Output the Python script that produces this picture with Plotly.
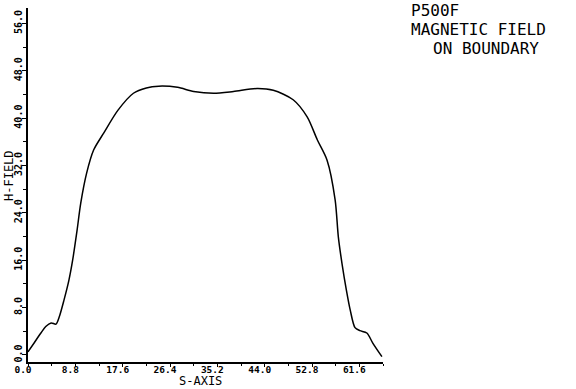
import plotly.graph_objects as go

# S-axis positions and H-field values
s_axis = [0.0, 1.2, 2.4, 3.3, 4.3, 5.2, 5.8, 6.7, 7.6, 8.3, 9.1, 9.8, 10.9, 12.2,
          14.1, 16.7, 19.6, 22.0, 24.3, 27.8, 30.8, 34.5, 38.2, 42.6, 45.6, 49.3,
          51.9, 53.8, 55.6, 57.1, 57.7, 58.4, 59.2, 59.9, 60.8, 61.7, 63.0, 64.1, 65.8]
h_field = [0.5, 2.1, 3.7, 4.8, 5.4, 5.2, 6.4, 9.3, 12.6, 16.0, 20.9, 25.6, 30.7, 34.6,
           37.5, 41.3, 44.2, 45.1, 45.4, 45.2, 44.5, 44.2, 44.5, 45.0, 44.7, 43.1,
           40.2, 36.3, 32.9, 26.2, 19.9, 15.3, 10.9, 7.6, 4.6, 4.1, 3.7, 2.0, -0.3]

x_ticks = [0.0, 8.8, 17.6, 26.4, 35.2, 44.0, 52.8, 61.6]
x_tick_labels = ["0.0", "8.8", "17.6", "26.4", "35.2", "44.0", "52.8", "61.6"]
y_ticks = [0, 8, 16, 24, 32, 40, 48, 56]
y_tick_labels = ["0.0", "8.0", "16.0", "24.0", "32.0", "40.0", "48.0", "56.0"]

x_title = "S-AXIS"
y_title = "H-FIELD"
title_lines = ["P500F", "MAGNETIC FIELD", "ON BOUNDARY"]

W, H = 576, 389
L, R, T, B = 28, 193, 8, 27
pw, ph = W - L - R, H - T - B

FONT = "DejaVu Sans Mono"

fig = go.Figure()
fig.add_trace(go.Scatter(
    x=s_axis, y=h_field, mode="lines",
    line=dict(color="black", width=1.5, shape="spline", smoothing=0.8),
    showlegend=False, hoverinfo="skip"))

fig.update_layout(
    width=W, height=H,
    margin=dict(l=L, r=R, t=T, b=B, pad=0),
    paper_bgcolor="white", plot_bgcolor="white",
    font=dict(family=FONT, color="black"),
    xaxis=dict(
        range=[0, 66], showgrid=False, zeroline=False,
        showline=True, linecolor="black", linewidth=1.5,
        tickmode="array", tickvals=x_ticks, ticktext=x_tick_labels,
        ticks="outside", ticklen=3, tickcolor="black", tickwidth=1,
        minor=dict(dtick=4.4, tick0=0, ticks="outside", ticklen=2, tickcolor="black"),
        tickfont=dict(family=FONT, size=9.5, weight="bold"),
        ticklabelshift=-5, ticklabelstandoff=-5,
        automargin=False, fixedrange=True,
    ),
    yaxis=dict(
        range=[-1.2, 58.6], showgrid=False, zeroline=False,
        showline=True, linecolor="black", linewidth=1.5,
        tickmode="array", tickvals=y_ticks, ticktext=y_tick_labels,
        ticks="outside", ticklen=4, tickcolor="black", tickwidth=1,
        minor=dict(dtick=4, tick0=0, ticks="outside", ticklen=3, tickcolor="black"),
        tickangle=-90,
        tickfont=dict(family=FONT, size=10, weight="bold"),
        ticklabelstandoff=-4,
        automargin=False, fixedrange=True,
    ),
)

def px_to_paper(px, py):
    return (px - L) / pw, (H - B - py) / ph

# axis titles
xp, yp = px_to_paper(200, 389)
fig.add_annotation(text=x_title, x=xp, y=yp, xref="paper", yref="paper",
                   xanchor="center", yanchor="bottom", showarrow=False, borderpad=0,
                   font=dict(family=FONT, size=12, color="black"))
xp, yp = px_to_paper(9, 176)
fig.add_annotation(text=y_title, x=xp, y=yp, xref="paper", yref="paper",
                   xanchor="center", yanchor="middle", showarrow=False, textangle=-90,
                   borderpad=0, font=dict(family=FONT, size=12, color="black"))

positions = [(410, 11), (410, 30), (432, 49)]
for text, (px, py) in zip(title_lines, positions):
    xp, yp = px_to_paper(px, py)
    fig.add_annotation(text=text, x=xp, y=yp, xref="paper", yref="paper",
                       xanchor="left", yanchor="middle", showarrow=False, borderpad=0,
                       font=dict(family=FONT, size=16, color="black"))

fig.write_html("out.html")
